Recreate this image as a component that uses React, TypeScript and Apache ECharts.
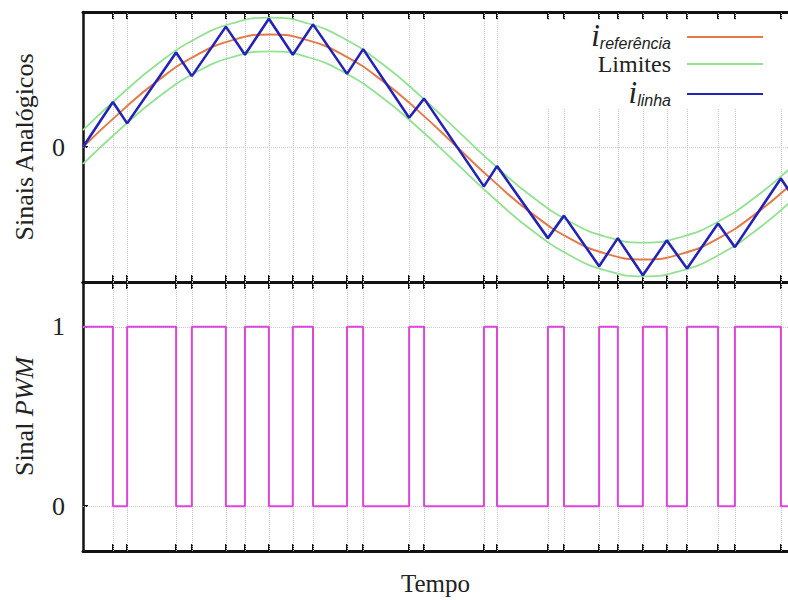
import React, { useEffect, useRef } from "react";
import * as echarts from "echarts";

// Time axis (ms) – the instants where the PWM switches (also the tick marks)
const switchTimes = [0.8, 1.18, 2.49, 2.91, 3.82, 4.33, 4.97, 5.61, 6.15, 7.06, 7.49, 8.72, 9.12, 10.72, 11.07, 12.43, 12.86, 13.8, 14.3, 14.97, 15.61, 16.15, 16.98, 17.43, 18.66];
// PWM state from t=0 and after every switching instant
const pwmStates = [1, 0, 1, 0, 1, 0, 1, 0, 1, 0, 1, 0, 1, 0, 1, 0, 1, 0, 1, 0, 1, 0, 1, 0, 1, 0];
// line current at t=0, at every switching instant, and just past the right edge (t=19)
const iLinha = [0, 0.4, 0.21, 0.84, 0.63, 1.07, 0.82, 1.14, 0.82, 1.09, 0.65, 0.87, 0.26, 0.43, -0.35, -0.17, -0.81, -0.61, -1.06, -0.81, -1.14, -0.83, -1.08, -0.68, -0.89, -0.28, -0.45];
// reference and hysteresis limits sampled every 1 ms
const sampleTimes = [0, 1, 2, 3, 4, 5, 6, 7, 8, 9, 10, 11, 12, 13, 14, 15, 16, 17, 18, 19];
const iReferencia = [0, 0.31, 0.59, 0.81, 0.95, 1.0, 0.95, 0.81, 0.59, 0.31, 0, -0.31, -0.59, -0.81, -0.95, -1.0, -0.95, -0.81, -0.59, -0.31];
const limiteSup = [0.15, 0.46, 0.74, 0.96, 1.1, 1.15, 1.1, 0.96, 0.74, 0.46, 0.15, -0.16, -0.44, -0.66, -0.8, -0.85, -0.8, -0.66, -0.44, -0.16];
const limiteInf = [-0.15, 0.16, 0.44, 0.66, 0.8, 0.85, 0.8, 0.66, 0.44, 0.16, -0.15, -0.46, -0.74, -0.96, -1.1, -1.15, -1.1, -0.96, -0.74, -0.46];
const tEnd = 19;
const tMax = 18.85;
const topTicks = [0];
const bottomTicks = [0, 1];

const SERIF = "'Liberation Serif', 'Times New Roman', serif";

export default function App() {
  const ref = useRef<HTMLDivElement>(null);
  useEffect(() => {
    if (!ref.current) return;
    const chart = echarts.init(ref.current, null, { renderer: "svg" });

    const edgeTimes = [0, ...switchTimes, tEnd];
    const linhaData = edgeTimes.map((t, i) => [t, iLinha[i]]);
    const pwmData = [...[0, ...switchTimes].map((t, i) => [t, pwmStates[i]]), [tEnd, pwmStates[pwmStates.length - 1]]];
    const refData = sampleTimes.map((t, i) => [t, iReferencia[i]]);
    const supData = sampleTimes.map((t, i) => [t, limiteSup[i]]);
    const infData = sampleTimes.map((t, i) => [t, limiteInf[i]]);

    const gridLineStyle = { color: "#c8c8c8", type: "dotted" as const, width: 1 };
    const xAxisBase = (gridIndex: number, position: "top" | "bottom") => ({
      type: "value" as const,
      gridIndex,
      position,
      min: 0,
      max: tMax,
      axisLine: { show: true, onZero: false, lineStyle: { color: "#111", width: 3 } },
      axisTick: { show: true, inside: true, length: 7, customValues: switchTimes, lineStyle: { color: "#111", width: 2 } },
      axisLabel: { show: false },
      splitLine: { show: false },
    });

    const option: any = {
      animation: false,
      backgroundColor: "#fff",
      grid: [
        { left: 83, top: 12, right: 0, height: 270 },
        { left: 83, top: 282, right: 0, height: 269 },
      ],
      xAxis: [
        xAxisBase(0, "bottom"),
        xAxisBase(0, "top"),
        xAxisBase(1, "top"),
        {
          ...xAxisBase(1, "bottom"),
          name: "Tempo",
          nameLocation: "middle",
          nameGap: 20,
          nameTextStyle: { fontFamily: SERIF, fontSize: 25, color: "#222", verticalAlign: "top" },
        },
      ],
      yAxis: [
        {
          type: "value",
          gridIndex: 0,
          min: -1.2,
          max: 1.2,
          name: "Sinais Analógicos",
          nameLocation: "middle",
          nameGap: 46,
          nameTextStyle: { fontFamily: SERIF, fontSize: 26, color: "#222" },
          axisLine: { show: true, onZero: false, lineStyle: { color: "#111", width: 2.5 } },
          axisTick: { show: true, inside: true, length: 5, customValues: topTicks, lineStyle: { color: "#111", width: 2 } },
          axisLabel: { customValues: topTicks, fontFamily: SERIF, fontSize: 26, color: "#222", margin: 18 },
          splitLine: { show: false },
        },
        {
          type: "value",
          gridIndex: 1,
          min: -0.25,
          max: 1.25,
          name: "{n|Sinal }{p|PWM}",
          nameLocation: "middle",
          nameGap: 46,
          nameTextStyle: {
            fontFamily: SERIF,
            fontSize: 26,
            color: "#222",
            rich: {
              n: { fontFamily: SERIF, fontSize: 26, color: "#222" },
              p: { fontFamily: SERIF, fontSize: 26, fontStyle: "italic", color: "#222" },
            },
          },
          axisLine: { show: true, onZero: false, lineStyle: { color: "#111", width: 2.5 } },
          axisTick: { show: true, inside: true, length: 5, customValues: bottomTicks, lineStyle: { color: "#111", width: 2 } },
          axisLabel: { customValues: bottomTicks, fontFamily: SERIF, fontSize: 26, color: "#222", margin: 18 },
          splitLine: { show: false },
        },
      ],
      legend: {
        orient: "vertical",
        right: 0,
        top: 20,
        align: "right",
        padding: [0, 24, 0, 60],
        backgroundColor: "#fff",
        itemWidth: 76,
        itemHeight: 12,
        itemGap: 1,
        itemStyle: { opacity: 0 },
        data: ["i referência", "Limites", "i linha"],
        formatter: (name: string) => {
          if (name === "i referência") return "{i|i}{s|referência}";
          if (name === "i linha") return "{i|i}{s|linha}";
          return "{l|" + name + "}";
        },
        textStyle: {
          fontFamily: SERIF,
          fontSize: 24,
          color: "#222",
          padding: [0, 11, 0, 0],
          rich: {
            i: { fontFamily: SERIF, fontStyle: "italic", fontSize: 31, lineHeight: 28, verticalAlign: "bottom", color: "#222" },
            s: { fontFamily: "'Liberation Sans', Arial, sans-serif", fontStyle: "italic", fontSize: 16, lineHeight: 16, verticalAlign: "bottom", color: "#222" },
            l: { fontFamily: SERIF, fontSize: 24, lineHeight: 28, color: "#222" },
          },
        },
      },
      series: [
        {
          name: "grade-sup",
          type: "line",
          xAxisIndex: 0,
          yAxisIndex: 0,
          z: 1,
          data: [[0, 0]],
          symbol: "none",
          lineStyle: { width: 0, opacity: 0 },
          markLine: {
            silent: true,
            z: 1,
            symbol: ["none", "none"],
            label: { show: false },
            lineStyle: gridLineStyle,
            data: [...switchTimes.map((t) => ({ xAxis: t })), { yAxis: 0 }],
          },
        },
        {
          name: "grade-inf",
          type: "line",
          xAxisIndex: 3,
          yAxisIndex: 1,
          z: 1,
          data: [[0, 0]],
          symbol: "none",
          lineStyle: { width: 0, opacity: 0 },
          markLine: {
            silent: true,
            z: 1,
            symbol: ["none", "none"],
            label: { show: false },
            lineStyle: gridLineStyle,
            data: [...switchTimes.map((t) => ({ xAxis: t })), { yAxis: 0 }, { yAxis: 1 }],
          },
        },
        {
          name: "Limites",
          type: "line",
          xAxisIndex: 0,
          yAxisIndex: 0,
          data: supData,
          smooth: true,
          symbol: "none",
          color: "#92e292",
          lineStyle: { color: "#92e292", width: 1.8 },
        },
        {
          name: "Limites",
          type: "line",
          xAxisIndex: 0,
          yAxisIndex: 0,
          data: infData,
          smooth: true,
          symbol: "none",
          color: "#92e292",
          lineStyle: { color: "#92e292", width: 1.8 },
        },
        {
          name: "i referência",
          type: "line",
          xAxisIndex: 0,
          yAxisIndex: 0,
          data: refData,
          smooth: true,
          symbol: "none",
          color: "#e27b48",
          lineStyle: { color: "#e27b48", width: 2 },
        },
        {
          name: "i linha",
          type: "line",
          xAxisIndex: 0,
          yAxisIndex: 0,
          data: linhaData,
          symbol: "none",
          color: "#2323b8",
          lineStyle: { color: "#2323b8", width: 2.6 },
        },
        {
          name: "PWM",
          type: "line",
          xAxisIndex: 3,
          yAxisIndex: 1,
          data: pwmData,
          step: "end",
          symbol: "none",
          color: "#dd45dd",
          lineStyle: { color: "#dd45dd", width: 2 },
        },
      ],
    };
    chart.setOption(option);
    return () => chart.dispose();
  }, []);
  return <div ref={ref} style={{ position: "fixed", left: 0, top: 0, width: 788, height: 600 }} />;
}
